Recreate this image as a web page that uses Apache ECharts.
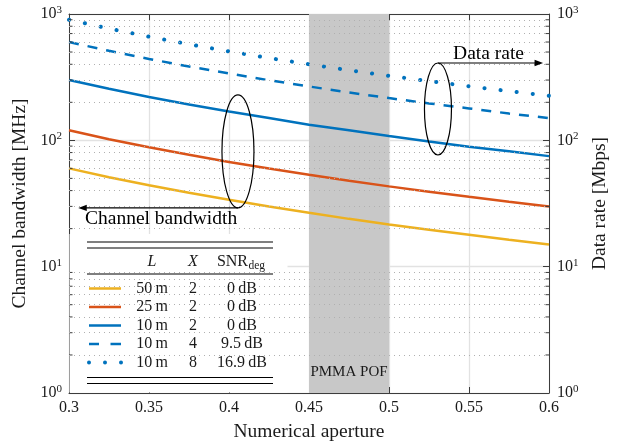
<!DOCTYPE html>
<html><head><meta charset="utf-8">
<script src="https://cdn.jsdelivr.net/npm/echarts@6/dist/echarts.min.js"></script>
<style>html,body{margin:0;padding:0;background:#fff}#c{width:621px;height:442px}</style>
</head><body><div id="c"></div>
<script>
// ---- data ----
const naValues   = [0.300,0.325,0.350,0.375,0.400,0.425,0.450,0.475,0.500,0.525,0.550,0.575,0.600];
const bw50m      = [60,51.1,44.1,38.4,33.8,29.9,26.7,23.9,21.6,19.6,17.9,16.3,15.0];
const bw25m      = [120,102,88.2,76.8,67.5,59.8,53.3,47.9,43.2,39.2,35.7,32.7,30.0];
const bw10m      = [300,256,220,192,169,150,133,120,108,98,89,82,75];
const rate10mX4  = [600,511,441,384,338,299,267,239,216,196,179,163,150];
const rate10mX8  = [900,767,661,576,506,448,400,359,324,294,268,245,225];
const minorValues = [2,3,4,5,6,7,8,9,20,30,40,50,60,70,80,90,200,300,400,500,600,700,800,900];
const pofBand = [0.45, 0.5];
const pofLabel = 'PMMA POF';
const legendLength = [50,25,10,10,10];
const legendX = [2,2,2,4,8];
const legendSnr = ['0','0','0','9.5','16.9'];

const FONT = 'Liberation Serif';
const TXT = '#1a1a1a';
const AX = '#3c3c3c';
const C_Y = '#EDB120', C_O = '#D95319', C_B = '#0072BD';
const pts = arr => naValues.map((x,i)=>[x, arr[i]]);

const chart = echarts.init(document.getElementById('c'), null, {renderer:'canvas'});
const yLabel = {
  formatter: v => '{b|10}{s|' + Math.round(Math.log10(v)) + '}',
  rich: { b:{fontFamily:FONT,fontSize:16,color:TXT}, s:{fontFamily:FONT,fontSize:11,color:TXT,padding:[0,0,8,0]} },
  margin: 7
};
const nameStyle = {fontFamily:FONT,fontSize:19.5,color:TXT};
const lineBase = {type:'line', showSymbol:false, symbol:'none', smooth:false, z:3, silent:true};

chart.setOption({
  animation:false,
  grid:{left:69,right:72,top:14,bottom:49,containLabel:false,outerBoundsMode:'none'},
  xAxis:[
    {type:'value',min:0.3,max:0.6,interval:0.05,position:'bottom',
     name:'Numerical aperture',nameLocation:'middle',nameGap:29,nameTextStyle:nameStyle,
     axisLine:{onZero:false,lineStyle:{color:AX,width:1}},
     axisTick:{inside:true,length:6,lineStyle:{color:AX}},
     axisLabel:{fontFamily:FONT,fontSize:16,color:TXT,margin:7},
     splitLine:{show:true,lineStyle:{color:'#e2e2e2',width:1.3}}},
    {type:'value',min:0.3,max:0.6,interval:0.05,position:'top',
     axisLine:{onZero:false,lineStyle:{color:AX,width:1}},
     axisTick:{inside:true,length:6,lineStyle:{color:AX}},
     axisLabel:{show:false},splitLine:{show:false}}
  ],
  yAxis:[
    {type:'log',logBase:10,min:1,max:1000,position:'left',
     name:'Channel bandwidth [MHz]',nameLocation:'middle',nameGap:35,nameRotate:90,nameTextStyle:nameStyle,
     axisLine:{show:true,lineStyle:{color:AX,width:1}},
     axisTick:{show:true,inside:true,length:6,lineStyle:{color:AX}},
     axisLabel:yLabel,
     splitLine:{show:true,lineStyle:{color:'#e2e2e2',width:1.3}}},
    {type:'log',logBase:10,min:1,max:1000,position:'right',
     name:'Data rate [Mbps]',nameLocation:'middle',nameGap:36,nameRotate:90,nameTextStyle:nameStyle,
     axisLine:{show:true,lineStyle:{color:AX,width:1}},
     axisTick:{show:true,inside:true,length:6,lineStyle:{color:AX}},
     axisLabel:Object.assign({}, yLabel, {margin:8}),
     splitLine:{show:false}}
  ],
  series:[
    {type:'line',name:'minorGrid',data:[[0.3,1]],symbol:'none',lineStyle:{width:0},z:1,silent:true,
     markLine:{silent:true,symbol:['none','none'],label:{show:false},animation:false,
       lineStyle:{color:'#b0b0b0',type:[1,4],width:1},
       data:minorValues.map(v=>({yAxis:v}))}},
    {type:'line',name:'pof',data:[[0.3,1]],symbol:'none',lineStyle:{width:0},z:2,silent:true,
     markArea:{silent:true,itemStyle:{color:'#c8c8c8',opacity:1},
       label:{show:true,position:'insideBottom',distance:13,fontFamily:FONT,fontSize:15,color:TXT,formatter:'{b}'},
       data:[[{name:pofLabel,xAxis:pofBand[0]},{xAxis:pofBand[1]}]]}},
    Object.assign({},lineBase,{name:'50 m, X=2',data:pts(bw50m),yAxisIndex:0,lineStyle:{color:C_Y,width:2.5}}),
    Object.assign({},lineBase,{name:'25 m, X=2',data:pts(bw25m),yAxisIndex:0,lineStyle:{color:C_O,width:2.5}}),
    Object.assign({},lineBase,{name:'10 m, X=2',data:pts(bw10m),yAxisIndex:0,lineStyle:{color:C_B,width:2.5}}),
    Object.assign({},lineBase,{name:'10 m, X=4',data:pts(rate10mX4),yAxisIndex:1,lineStyle:{color:C_B,width:2.5,type:[10,9]}}),
    Object.assign({},lineBase,{name:'10 m, X=8',data:pts(rate10mX8),yAxisIndex:1,lineStyle:{color:C_B,width:4,type:[0.1,16.1],cap:'round'}})
  ]
});

// ---- graphics: minor ticks, legend table, annotations ----
const px = v => chart.convertToPixel({xAxisIndex:0}, v);
const py = v => chart.convertToPixel({yAxisIndex:0}, v);
const xL = px(0.3), xR = px(0.6), yB = py(1), yT = py(1000);
const g = [];
minorValues.forEach(v=>{
  const y = py(v);
  g.push({type:'line',z:4,silent:true,shape:{x1:xL,y1:y,x2:xL+3.5,y2:y},style:{stroke:AX,lineWidth:1}});
  g.push({type:'line',z:4,silent:true,shape:{x1:xR,y1:y,x2:xR-3.5,y2:y},style:{stroke:AX,lineWidth:1}});
});
// legend background
g.push({type:'rect',z:2.5,silent:true,shape:{x:xL+0.5,y:234,width:287-xL,height:yB-234-0.5},style:{fill:'#fff'}});
// table rules
const tL = 87, tR = 273;
[242,248,274,377.5,383.5].forEach(y=>g.push({type:'line',z:5,silent:true,shape:{x1:tL,y1:y,x2:tR,y2:y},style:{stroke:'#000',lineWidth:1.2}}));
const txt = (s,x,y,align,size,italic)=>({type:'text',z:5,silent:true,style:{text:s,x:x,y:y,textAlign:align,align:align,textVerticalAlign:'middle',verticalAlign:'middle',fontFamily:FONT,fontSize:size,fontStyle:italic?'italic':'normal',fill:TXT}});
const colL = 152, colX = 193, colS = 242;
g.push(txt('L',colL,262,'center',16,true));
g.push(txt('X',colX,262,'center',16,true));
g.push(txt('SNR',248,262,'right',16,false));
g.push(txt('deg',248.5,266,'left',11.5,false));
const rowY = [288.5,307,325.5,344,362.5];
const swatch = [
  {c:C_Y,kind:'solid'},{c:C_O,kind:'solid'},{c:C_B,kind:'solid'},{c:C_B,kind:'dash'},{c:C_B,kind:'dot'}
];
rowY.forEach((y,i)=>{
  const s = swatch[i];
  if (s.kind==='solid') g.push({type:'line',z:5,silent:true,shape:{x1:89,y1:y,x2:121,y2:y},style:{stroke:s.c,lineWidth:2.5}});
  else if (s.kind==='dash') { [[89,99],[110.5,121]].forEach(d=>g.push({type:'line',z:5,silent:true,shape:{x1:d[0],y1:y,x2:d[1],y2:y},style:{stroke:s.c,lineWidth:2.5}})); }
  else { [89,105,121].forEach(x=>g.push({type:'circle',z:5,silent:true,shape:{cx:x,cy:y,r:2},style:{fill:s.c}})); }
  g.push(txt(legendLength[i]+'\u2009m',colL,y,'center',16,false));
  g.push(txt(String(legendX[i]),colX,y,'center',16,false));
  g.push(txt(legendSnr[i]+'\u2009dB',colS,y,'center',16,false));
});
// annotation: channel bandwidth
const e1x = px(0.4056), e1y = py(81.7), e1rx = 16, e1ry = 56.5;
g.push({type:'ellipse',z:6,silent:true,shape:{cx:e1x,cy:e1y,rx:e1rx,ry:e1ry},style:{fill:'none',stroke:'#000',lineWidth:1.2}});
const a1y = e1y + e1ry, a1tip = px(0.3058);
g.push({type:'line',z:6,silent:true,shape:{x1:e1x,y1:a1y,x2:a1tip+6,y2:a1y},style:{stroke:'#000',lineWidth:1.2}});
g.push({type:'polygon',z:6,silent:true,shape:{points:[[a1tip,a1y],[a1tip+8.5,a1y-3.2],[a1tip+8.5,a1y+3.2]]},style:{fill:'#000'}});
g.push({type:'text',z:6,silent:true,style:{text:'Channel bandwidth',x:85,y:a1y+11,textAlign:'left',align:'left',textVerticalAlign:'middle',verticalAlign:'middle',fontFamily:FONT,fontSize:19.5,fill:'#000'}});
// annotation: data rate
const e2x = px(0.5306), e2y = py(177), e2rx = 13.5, e2ry = 46;
g.push({type:'ellipse',z:6,silent:true,shape:{cx:e2x,cy:e2y,rx:e2rx,ry:e2ry},style:{fill:'none',stroke:'#000',lineWidth:1.2}});
const a2y = e2y - e2ry, a2tip = px(0.5963);
g.push({type:'line',z:6,silent:true,shape:{x1:e2x,y1:a2y,x2:a2tip-6,y2:a2y},style:{stroke:'#000',lineWidth:1.2}});
g.push({type:'polygon',z:6,silent:true,shape:{points:[[a2tip,a2y],[a2tip-8.5,a2y-3.2],[a2tip-8.5,a2y+3.2]]},style:{fill:'#000'}});
g.push({type:'text',z:6,silent:true,style:{text:'Data rate',x:488.5,y:a2y-9,textAlign:'center',align:'center',textVerticalAlign:'middle',verticalAlign:'middle',fontFamily:FONT,fontSize:19.5,fill:'#000'}});
chart.setOption({graphic:g});
</script></body></html>
